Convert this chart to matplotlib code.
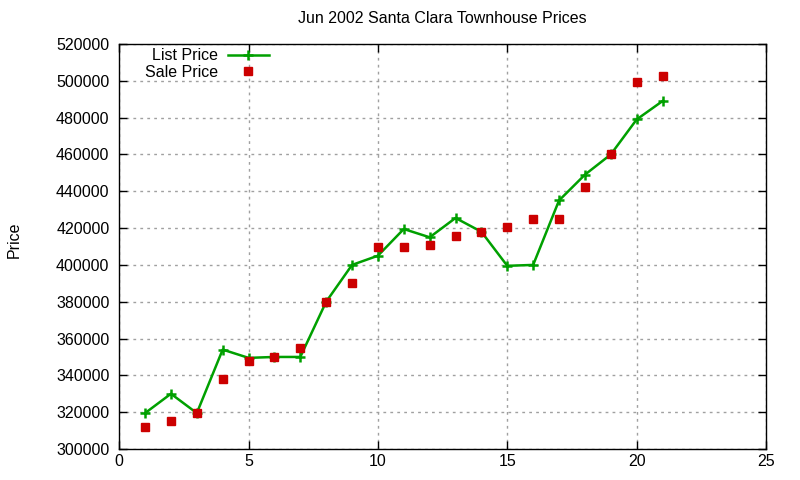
import matplotlib
matplotlib.use("Agg")
import matplotlib.pyplot as plt

# data
index = list(range(1, 22))
list_price = [319500, 330000, 319500, 354000, 349500, 350000, 350000, 380000,
              400000, 405000, 419500, 415000, 425500, 418000, 399500, 400000,
              435000, 449000, 460000, 479000, 489000]
sale_price = [312000, 315000, 319500, 338000, 348000, 350000, 355000, 380000,
              390000, 410000, 410000, 411000, 415500, 418000, 420500, 425000,
              425000, 442500, 460000, 499500, 502500]

x_ticks = [0, 5, 10, 15, 20, 25]
y_ticks = list(range(300000, 520001, 20000))

plt.rcParams['font.family'] = ['Liberation Sans', 'DejaVu Sans']
plt.rcParams['font.size'] = 11.5

fig = plt.figure(figsize=(8, 4.8), dpi=100)
ax = fig.add_axes([0.149, 0.0646, 0.8085, 0.8437])

ax.plot(index, list_price, color='#00a000', lw=1.8, marker='+', ms=7.5,
        mew=1.8, label='List Price')
ax.plot(index, sale_price, ls='none', color='#cc0000', marker='s', ms=6,
        label='Sale Price')

ax.set_xlim(0, 25)
ax.set_ylim(300000, 520000)
ax.set_xticks(x_ticks)
ax.set_yticks(y_ticks)
ax.grid(True, color='#a0a0a0', ls=(0, (2, 3)), lw=1)
ax.tick_params(direction='in', top=True, right=True, length=6, width=1)
ax.tick_params(axis='y', pad=7)
for s in ax.spines.values():
    s.set_linewidth(1)

ax.set_title('Jun 2002 Santa Clara Townhouse Prices', fontsize=11.5, pad=15)
fig.text(0.008, 0.5, 'Price', rotation=90, va='center', ha='left')

ax.legend(loc='upper left', frameon=False, markerfirst=False,
          handlelength=2.6, borderaxespad=0.0, labelspacing=0.1,
          handletextpad=0.6, bbox_to_anchor=(0.03, 1.005))

fig.savefig('out.png', dpi=100)
